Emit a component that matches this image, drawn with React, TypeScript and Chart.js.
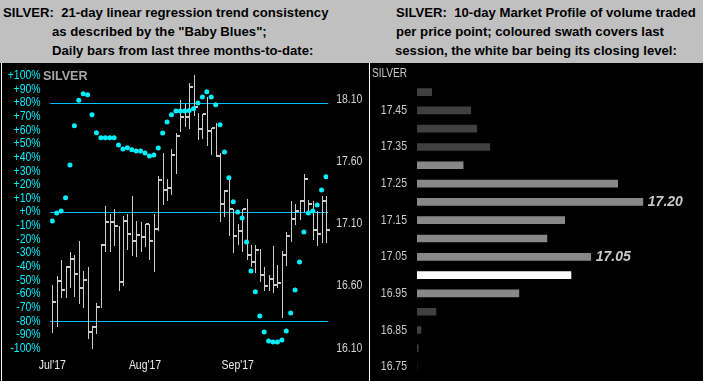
import React, { useEffect, useRef } from 'react';
import { Chart, registerables } from 'chart.js';

Chart.register(...registerables);

// ---------- Left panel data ----------
const xTickPositions = [0, 21, 42];
const xTickLabels = ["Jul'17", "Aug'17", "Sep'17"];
const priceTicks = [16.1, 16.6, 17.1, 17.6, 18.1];
const pctTicks = [100, 90, 80, 70, 60, 50, 40, 30, 20, 10, 0, -10, -20, -30, -40, -50, -60, -70, -80, -90, -100];
const refLevels = [80, 0, -80];

const highs = [
  16.61, 16.68, 16.81, 16.76, 16.87, 16.85, 16.96, 16.72, 16.75, 16.28,
  16.46, 16.94, 17.24, 17.18, 17.22, 17.08, 17.16, 17.18, 17.32, 17.12,
  17.11, 17.10, 17.10, 17.18, 17.48, 17.67, 17.46, 17.70, 17.83, 18.09,
  18.06, 18.23, 18.29, 17.99, 17.98, 18.12, 17.87, 17.91, 17.67, 17.37,
  17.45, 17.22, 17.10, 17.22, 17.30, 16.93, 16.93, 16.90, 16.75, 16.69,
  16.92, 16.77, 16.88, 17.03, 17.28, 17.26, 17.29, 17.50, 17.29, 17.28,
  17.20, 17.32, 17.32,
];
const lows = [
  16.23, 16.28, 16.51, 16.51, 16.59, 16.52, 16.46, 16.43, 16.18, 16.10,
  16.22, 16.43, 16.88, 16.88, 16.93, 16.57, 16.61, 16.90, 16.85, 16.84,
  16.88, 16.92, 16.82, 16.72, 17.05, 17.26, 17.29, 17.34, 17.51, 17.84,
  17.88, 17.87, 17.97, 17.78, 17.79, 17.73, 17.66, 17.64, 17.12, 17.16,
  17.01, 16.87, 16.94, 16.88, 16.82, 16.76, 16.71, 16.64, 16.57, 16.57,
  16.55, 16.59, 16.35, 16.77, 16.96, 17.10, 17.14, 17.20, 17.18, 16.98,
  16.93, 16.95, 16.95,
];
const closes = [
  16.47, 16.64, 16.57, 16.75, 16.82, 16.70, 16.58, 16.65, 16.23, 16.27,
  16.43, 16.93, 17.11, 17.11, 17.08, 16.63, 17.12, 17.02, 16.96, 17.01,
  16.99, 17.10, 16.96, 17.06, 17.45, 17.37, 17.39, 17.65, 17.80, 17.96,
  17.96, 18.20, 18.04, 17.86, 17.98, 17.84, 17.87, 17.64, 17.26, 17.36,
  17.22, 17.00, 17.04, 17.22, 16.85, 16.79, 16.89, 16.69, 16.60, 16.66,
  16.61, 16.62, 16.85, 17.00, 17.14, 17.20, 17.28, 17.46, 17.26, 17.05,
  17.02, 17.28, 17.05,
];
const trendConsistency = [
  -6.6, -0.7, 0.7, 10.5, 34.5, 63.3, 82.0, 86.8, 86.0, 71.4,
  58.2, 54.5, 54.5, 54.5, 54.5, 49.2, 46.2, 47.2, 45.7, 44.8,
  44.8, 43.3, 41.1, 41.8, 47.0, 58.0, 66.0, 71.4, 74.1, 74.1,
  74.1, 74.5, 75.8, 80.0, 84.4, 88.3, 84.4, 78.7, 64.0, 44.0,
  25.2, 7.6, 0.0, -4.4, -22.0, -43.3, -58.5, -76.3, -88.0, -94.6,
  -95.4, -95.4, -93.9, -87.3, -74.1, -57.2, -36.7, -14.7, -0.7, 0.7,
  5.1, 16.1, 25.9,
];

// ---------- Right panel data ----------
const profilePrices = [
  '17.50', '17.45', '17.40', '17.35', '17.30', '17.25', '17.20', '17.15',
  '17.10', '17.05', '17.00', '16.95', '16.90', '16.85', '16.80', '16.75',
];
const profileVolumes = [
  5.2, 19.0, 21.1, 25.7, 16.3, 70.9, 79.8, 52.2,
  45.9, 61.4, 54.4, 36.0, 6.7, 1.4, 0.4, 0,
];
// 0 = earlier sessions, 1 = last session swath, 2 = closing level
const profileSession = [0, 0, 0, 0, 1, 1, 1, 1, 1, 1, 2, 1, 0, 0, 0, 0];
const labeledPrices = ['17.20', '17.05'];

const SANS = '"Liberation Sans", Arial, sans-serif';
const AXIS_FONT = '12.6px ' + SANS;
const SQUEEZE = 0.83;

function drawNarrow(
  ctx: CanvasRenderingContext2D,
  text: string,
  x: number,
  y: number,
  align: CanvasTextAlign,
  color: string,
  font = AXIS_FONT,
  sx = SQUEEZE,
) {
  ctx.save();
  ctx.font = font;
  ctx.fillStyle = color;
  ctx.textAlign = align;
  ctx.textBaseline = 'middle';
  ctx.translate(x, y);
  ctx.scale(sx, 1);
  ctx.fillText(text, 0, 0);
  ctx.restore();
}

const pctLabel = (v: number) => (v >= 0 ? '+' : '') + v + '%';

export default function App() {
  const leftRef = useRef<HTMLCanvasElement | null>(null);
  const rightRef = useRef<HTMLCanvasElement | null>(null);

  useEffect(() => {
    const leftPlugin = {
      id: 'leftDecor',
      beforeDatasetsDraw(chart: any) {
        const { ctx, chartArea } = chart;
        const ys = chart.scales.y;
        const xs = chart.scales.x;
        const yr = chart.scales.yR;
        ctx.save();
        // reference levels
        ctx.strokeStyle = '#00bfff';
        ctx.lineWidth = 1;
        refLevels.forEach((lv) => {
          const py = Math.round(ys.getPixelForValue(lv)) + 0.5;
          ctx.beginPath();
          ctx.moveTo(chartArea.left, py);
          ctx.lineTo(chartArea.right, py);
          ctx.stroke();
        });
        // daily bars: high-low line with close tick
        ctx.fillStyle = '#cccccc';
        highs.forEach((h, i) => {
          const px = Math.round(xs.getPixelForValue(i));
          const yh = Math.round(yr.getPixelForValue(h));
          const yl = Math.round(yr.getPixelForValue(lows[i]));
          const yc = Math.round(yr.getPixelForValue(closes[i]));
          ctx.fillRect(px, yh, 1, yl - yh + 1);
          ctx.fillRect(px + 1, yc - 1, 3, 2);
        });
        ctx.restore();

        // axis labels
        pctTicks.forEach((v) => {
          drawNarrow(ctx, pctLabel(v), chartArea.left - 9.5, ys.getPixelForValue(v), 'right', '#00f0ff');
        });
        priceTicks.forEach((v) => {
          drawNarrow(ctx, v.toFixed(2), chartArea.right + 8, yr.getPixelForValue(v), 'left', '#d4d4d4');
        });
        xTickPositions.forEach((v, k) => {
          drawNarrow(ctx, xTickLabels[k], xs.getPixelForValue(v), chartArea.bottom + 17.5, 'center', '#eeeeee');
        });
      },
    };

    const left = new Chart(leftRef.current!, {
      type: 'line',
      data: {
        datasets: [
          {
            data: trendConsistency.map((v, i) => ({ x: i, y: v })),
            yAxisID: 'y',
            xAxisID: 'x',
            showLine: false,
            pointRadius: 2.5,
            pointBorderWidth: 0,
            pointBackgroundColor: '#00f0ff',
            pointBorderColor: '#00f0ff',
          },
        ],
      },
      options: {
        responsive: false,
        animation: false,
        events: [],
        layout: { padding: { top: 12.7, left: 0, right: 0, bottom: 0 } },
        plugins: { legend: { display: false }, tooltip: { enabled: false } },
        scales: {
          x: {
            type: 'linear',
            position: 'bottom',
            offset: false,
            min: -0.5,
            max: 62.5,
            grid: { display: false, drawTicks: false },
            border: { display: false },
            ticks: { display: false },
            afterFit: (s: any) => {
              s.height = 32.7;
            },
          },
          y: {
            type: 'linear',
            position: 'left',
            min: -100,
            max: 100,
            grid: { display: false, drawTicks: false },
            border: { display: false },
            ticks: { display: false, stepSize: 10 },
            afterFit: (s: any) => {
              s.width = 50.1;
            },
          },
          yR: {
            type: 'linear',
            position: 'right',
            min: 16.1,
            max: 18.2875,
            grid: { display: false, drawTicks: false },
            border: { display: false },
            ticks: { display: false },
            afterFit: (s: any) => {
              s.width = 34.8;
            },
          },
        },
      } as any,
      plugins: [leftPlugin],
    });

    const rightPlugin = {
      id: 'profileDecor',
      afterDatasetsDraw(chart: any) {
        const { ctx, chartArea } = chart;
        const ys = chart.scales.y;
        const meta = chart.getDatasetMeta(0);
        profilePrices.forEach((p, i) => {
          if (i % 2 === 1) drawNarrow(ctx, p, chartArea.left - 10, ys.getPixelForValue(i), 'right', '#cccccc');
        });
        ctx.save();
        ctx.fillStyle = '#c8c8c8';
        ctx.font = 'italic bold 14px ' + SANS;
        ctx.textBaseline = 'middle';
        ctx.textAlign = 'left';
        labeledPrices.forEach((p) => {
          const i = profilePrices.indexOf(p);
          const el = meta.data[i];
          if (el) ctx.fillText(p, el.x + 5, el.y + 0.5);
        });
        ctx.restore();
        drawNarrow(ctx, 'SILVER', 9, 11, 'left', '#c8c8c8', '12.6px ' + SANS, 0.8);
      },
    };

    const colorFor = (s: number) => (s === 2 ? '#ffffff' : s === 1 ? '#888888' : '#404040');

    const right = new Chart(rightRef.current!, {
      type: 'bar',
      data: {
        labels: profilePrices,
        datasets: [
          {
            data: profileVolumes,
            backgroundColor: profileSession.map(colorFor),
            borderWidth: 0,
            barThickness: 7,
          },
        ],
      },
      options: {
        indexAxis: 'y',
        responsive: false,
        animation: false,
        events: [],
        layout: { padding: { top: 19.9, bottom: 5.2, right: 3, left: 0 } },
        plugins: { legend: { display: false }, tooltip: { enabled: false } },
        scales: {
          x: { display: false, min: 0, max: 100 },
          y: {
            type: 'category',
            grid: { display: false, drawTicks: false },
            border: { display: false },
            ticks: { display: false },
            afterFit: (s: any) => {
              s.width = 54;
            },
          },
        },
      } as any,
      plugins: [rightPlugin],
    });

    return () => {
      left.destroy();
      right.destroy();
    };
  }, []);

  const hdr: React.CSSProperties = {
    position: 'absolute',
    fontFamily: SANS,
    fontWeight: 'bold',
    fontSize: 13.15,
    lineHeight: '15px',
    color: '#000',
    whiteSpace: 'pre',
  };

  return (
    <div
      style={{
        position: 'fixed',
        left: 0,
        top: 0,
        width: 703,
        height: 381,
        background: '#c0c0c0',
        overflow: 'hidden',
      }}
    >
      <div style={{ ...hdr, left: 3, top: 4.5 }}>{'SILVER:  21-day linear regression trend consistency'}</div>
      <div style={{ ...hdr, left: 52, top: 23.5 }}>{'as described by the "Baby Blues";'}</div>
      <div style={{ ...hdr, left: 52, top: 42.5 }}>{'Daily bars from last three months-to-date:'}</div>
      <div style={{ ...hdr, left: 396, top: 4.5 }}>{'SILVER:  10-day Market Profile of volume traded'}</div>
      <div style={{ ...hdr, left: 396, top: 23.5 }}>{'per price point; coloured swath covers last'}</div>
      <div style={{ ...hdr, left: 395, top: 42.5 }}>{'session, the white bar being its closing level:'}</div>

      <div style={{ position: 'absolute', left: 0, top: 63, width: 703, height: 318, background: '#000' }} />

      <div style={{ position: 'absolute', left: 363, top: 63, width: 340, height: 318 }}>
        <canvas ref={rightRef} width={340} height={318} style={{ display: 'block' }} />
        <div style={{ position: 'absolute', left: 6, top: 0, width: 1, height: 318, background: '#ffffff' }} />
      </div>

      <div style={{ position: 'absolute', left: 0, top: 63, width: 363, height: 318 }}>
        <canvas ref={leftRef} width={363} height={318} style={{ display: 'block' }} />
        <div style={{ position: 'absolute', left: 1, top: 0, width: 1, height: 318, background: '#ffffff' }} />
        <div
          style={{
            position: 'absolute',
            left: 43,
            top: 5,
            fontFamily: SANS,
            fontWeight: 'bold',
            fontSize: 12.6,
            lineHeight: '16px',
            color: '#a8a8a8',
          }}
        >
          SILVER
        </div>
      </div>
    </div>
  );
}
